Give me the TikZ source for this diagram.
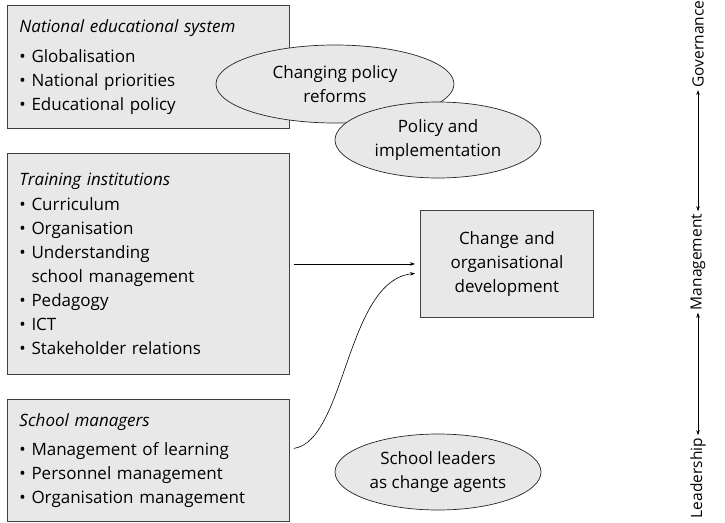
\documentclass[tikz,border=0pt]{standalone}
\usepackage{fontspec}
\setmainfont{Open Sans}
\usetikzlibrary{shapes.geometric,arrows.meta}
\newcommand{\itm}{\textbullet\ }
\newcommand{\itmgap}{\hphantom{\textbullet\ }}
\tikzset{
	greybox/.style={draw=black!75, fill=black!9, line width=0.9pt, rectangle, inner xsep=12pt, inner ysep=0pt, align=left},
	greyoval/.style={draw=black!85, fill=black!9, line width=0.7pt, ellipse, inner sep=0pt, align=center},
	sidelabel/.style={rotate=90, inner sep=2.5pt, font=\fontsize{15.5}{18}\selectfont},
	arr/.style={-{Stealth[length=5pt,width=3.5pt]}, line width=0.6pt},
	dblarr/.style={{Stealth[length=5pt,width=3.5pt]}-{Stealth[length=5pt,width=3.5pt]}, line width=0.6pt}
}

\begin{document}
\begin{tikzpicture}[x=1pt, y=-1pt, font=\fontsize{17}{24}\selectfont]
		%%%%% START %%%%%
		\useasboundingbox (0,0) rectangle (725,522);
		
		% left column
		\node[greybox, anchor=north west, text width=258pt, minimum height=123pt] (natbox) at (7,5)
			{\textit{National educational system}\\[6pt]
			 \itm Globalisation\\ \itm National priorities\\ \itm Educational policy};
		\node[greybox, anchor=north west, text width=258pt, minimum height=221pt] (trainbox) at (7,153)
			{\textit{Training institutions}\\[1pt]
			 \itm Curriculum\\ \itm Organisation\\ \itm Understanding\\ \itmgap school management\\
			 \itm Pedagogy\\ \itm ICT\\ \itm Stakeholder relations};
		\node[greybox, anchor=north west, text width=258pt, minimum height=122pt] (schoolbox) at (7,399)
			{\textit{School managers}\\[5pt]
			 \itm Management of learning\\ \itm Personnel management\\ \itm Organisation management};
		
		% ovals
		\node[greyoval, minimum width=238pt, minimum height=78pt] (reforms) at (335,84) {Changing policy\\ reforms};
		\node[greyoval, minimum width=206pt, minimum height=76pt] (implement) at (438,140) {Policy and\\ implementation};
		\node[greyoval, minimum width=206pt, minimum height=76pt] (leaders) at (438,472) {School leaders\\ as change agents};
		
		% centre box
		\node[greybox, anchor=north west, inner xsep=0pt, align=center, text width=173pt, minimum height=107pt] (changebox) at (420,210)
			{Change and\\ organisational\\ development};
		
		\draw[arr, shorten <=4pt, shorten >=5pt] (trainbox.east) -- (trainbox.east -| changebox.west);
		\draw[arr] ([xshift=4pt, yshift=12pt]schoolbox.east) .. controls +(52,-8) and +(-69,7) .. ([xshift=-5pt, yshift=-9.5pt]changebox.west);
		
		% right column
		\node[sidelabel] (gov) at (698,44) {Governance};
		\node[sidelabel] (mgmt) at (698,262) {Management};
		\node[sidelabel] (lead) at (698,478) {Leadership};
		\draw[dblarr] (gov.west) -- (mgmt.east);
		\draw[dblarr] (mgmt.west) -- (lead.east);
		
		%%%%% END %%%%%
\end{tikzpicture}
\end{document}
